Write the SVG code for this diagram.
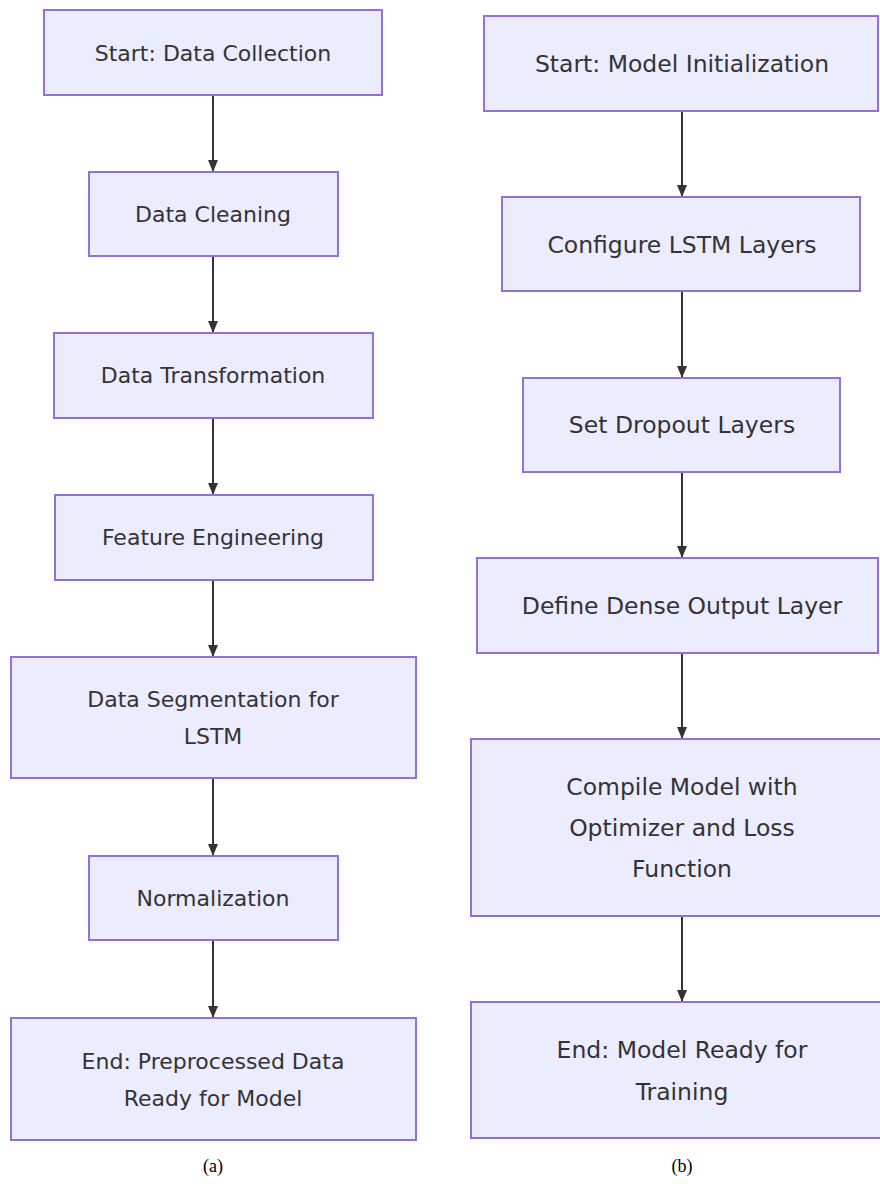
<svg xmlns="http://www.w3.org/2000/svg" width="880" height="1203" viewBox="0 0 880 1203">
<style>
.box{fill:#ECECFF;stroke:#9370DB;stroke-width:2}
.l{font-family:"DejaVu Sans",sans-serif;font-size:22px;fill:#333;text-anchor:middle}
.r{font-family:"DejaVu Sans",sans-serif;font-size:23.5px;fill:#333;text-anchor:middle}
.edge{stroke:#333;stroke-width:2;fill:none}
.cap{font-family:"Liberation Serif",serif;font-size:18px;fill:#000;text-anchor:middle}
</style>
<defs>
<marker id="arrow" viewBox="0 0 12 10" refX="12" refY="5" markerWidth="12" markerHeight="10" markerUnits="userSpaceOnUse" orient="auto">
<path d="M0,0 L12,5 L0,10 z" fill="#333"/>
</marker>
</defs>
<rect width="880" height="1203" fill="#fff"/>
<g id="connectors">
<line class="edge" x1="213" y1="95" x2="213" y2="172" marker-end="url(#arrow)"/>
<line class="edge" x1="213" y1="256" x2="213" y2="333" marker-end="url(#arrow)"/>
<line class="edge" x1="213" y1="418" x2="213" y2="495" marker-end="url(#arrow)"/>
<line class="edge" x1="213" y1="580" x2="213" y2="657" marker-end="url(#arrow)"/>
<line class="edge" x1="213" y1="778" x2="213" y2="856" marker-end="url(#arrow)"/>
<line class="edge" x1="213" y1="940" x2="213" y2="1018" marker-end="url(#arrow)"/>
<line class="edge" x1="682" y1="111" x2="682" y2="197" marker-end="url(#arrow)"/>
<line class="edge" x1="682" y1="291" x2="682" y2="378" marker-end="url(#arrow)"/>
<line class="edge" x1="682" y1="472" x2="682" y2="558" marker-end="url(#arrow)"/>
<line class="edge" x1="682" y1="653" x2="682" y2="739" marker-end="url(#arrow)"/>
<line class="edge" x1="682" y1="916" x2="682" y2="1002" marker-end="url(#arrow)"/>
</g>
<g id="a1"><rect class="box" x="44" y="10" width="338" height="85"/><text class="l" x="213" y="61">Start: Data Collection</text></g>
<g id="a2"><rect class="box" x="89" y="172" width="249" height="84"/><text class="l" x="213" y="222">Data Cleaning</text></g>
<g id="a3"><rect class="box" x="54" y="333" width="319" height="85"/><text class="l" x="213" y="383">Data Transformation</text></g>
<g id="a4"><rect class="box" x="55" y="495" width="318" height="85"/><text class="l" x="213" y="545">Feature Engineering</text></g>
<g id="a5"><rect class="box" x="11" y="657" width="405" height="121"/><text class="l" x="213" y="707">Data Segmentation for</text><text class="l" x="213" y="744">LSTM</text></g>
<g id="a6"><rect class="box" x="89" y="856" width="249" height="84"/><text class="l" x="213" y="906">Normalization</text></g>
<g id="a7"><rect class="box" x="11" y="1018" width="405" height="122"/><text class="l" x="213" y="1069">End: Preprocessed Data</text><text class="l" x="213" y="1106">Ready for Model</text></g>
<g id="b1"><rect class="box" x="484" y="16" width="394" height="95"/><text class="r" x="682" y="72">Start: Model Initialization</text></g>
<g id="b2"><rect class="box" x="502" y="197" width="358" height="94"/><text class="r" x="682" y="253">Configure LSTM Layers</text></g>
<g id="b3"><rect class="box" x="523" y="378" width="317" height="94"/><text class="r" x="682" y="433">Set Dropout Layers</text></g>
<g id="b4"><rect class="box" x="477" y="558" width="401" height="95"/><text class="r" x="682" y="614">Define Dense Output Layer</text></g>
<g id="b5"><rect class="box" x="471" y="739" width="410" height="177"/><text class="r" x="682" y="795">Compile Model with</text><text class="r" x="682" y="836">Optimizer and Loss</text><text class="r" x="682" y="877">Function</text></g>
<g id="b6"><rect class="box" x="471" y="1002" width="410" height="136"/><text class="r" x="682" y="1058">End: Model Ready for</text><text class="r" x="682" y="1100">Training</text></g>
<text class="cap" x="213" y="1172">(a)</text>
<text class="cap" x="682" y="1172">(b)</text>
</svg>
